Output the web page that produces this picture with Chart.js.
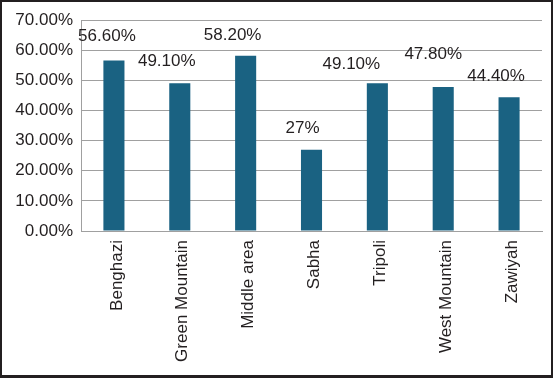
<!DOCTYPE html>
<html>
<head>
<meta charset="utf-8">
<script src="https://cdn.jsdelivr.net/npm/chart.js@4/dist/chart.umd.min.js"></script>
<style>
  html, body { margin: 0; padding: 0; background: #fff; }
  #wrap { width: 553px; height: 378px; box-sizing: border-box; border: 2px solid #231f20; border-bottom-width: 3px; position: relative; }
  canvas { display: block; }
</style>
</head>
<body>
<div id="wrap"><canvas id="c" width="549" height="373"></canvas></div>
<script>
const categories = ["Benghazi", "Green Mountain", "Middle area", "Sabha", "Tripoli", "West Mountain", "Zawiyah"];
const values = [56.6, 49.1, 58.2, 27, 49.1, 47.8, 44.4];
const valueLabels = ["56.60%", "49.10%", "58.20%", "27%", "49.10%", "47.80%", "44.40%"];
const yTicks = [0, 10, 20, 30, 40, 50, 60, 70];

const FONT = "'Liberation Sans', Arial, sans-serif";
const TEXT = "#231f20";

const valueLabelPlugin = {
  id: 'valueLabels',
  afterDatasetsDraw(chart, args, opts) {
    const ctx = chart.ctx;
    const meta = chart.getDatasetMeta(0);
    ctx.save();
    ctx.font = "17px " + FONT;
    ctx.fillStyle = TEXT;
    ctx.textAlign = 'center';
    ctx.textBaseline = 'middle';
    meta.data.forEach((bar, i) => {
      const n = opts.nudge[i];
      ctx.fillText(valueLabels[i], bar.x + n[0], bar.y - n[1]);
    });
    ctx.restore();
  }
};

new Chart(document.getElementById('c'), {
  type: 'bar',
  data: {
    labels: categories,
    datasets: [{
      data: values,
      backgroundColor: '#1a6282',
      borderWidth: 0,
      barPercentage: 0.32,
      categoryPercentage: 1.0
    }]
  },
  options: {
    responsive: false,
    animation: false,
    events: [],
    layout: { padding: { top: 6, right: 9, left: 0, bottom: 0 } },
    plugins: {
      legend: { display: false },
      tooltip: { enabled: false },
      valueLabels: {
        nudge: [[-7, 24], [-13, 22], [-13, 20], [-9, 21], [-26, 19], [-10, 33], [-13, 21]]
      }
    },
    scales: {
      x: {
        grid: { display: false, drawTicks: false },
        border: { display: true, color: '#a0a0a0', width: 1 },
        ticks: {
          color: TEXT,
          font: { family: FONT, size: 17 },
          minRotation: 90,
          maxRotation: 90,
          padding: 9,
          labelOffset: 3,
          autoSkip: false
        },
        afterFit(scale) { scale.height = 144; }
      },
      y: {
        min: 0,
        max: 70,
        afterBuildTicks(scale) { scale.ticks = yTicks.map(v => ({ value: v })); },
        grid: { color: '#a0a0a0', lineWidth: 1, drawTicks: false },
        border: { display: true, color: '#a0a0a0', width: 1 },
        ticks: {
          color: TEXT,
          font: { family: FONT, size: 17 },
          padding: 8,
          callback: v => v.toFixed(2) + '%'
        },
        afterFit(scale) { scale.width = 79; }
      }
    }
  },
  plugins: [valueLabelPlugin]
});
</script>
</body>
</html>
